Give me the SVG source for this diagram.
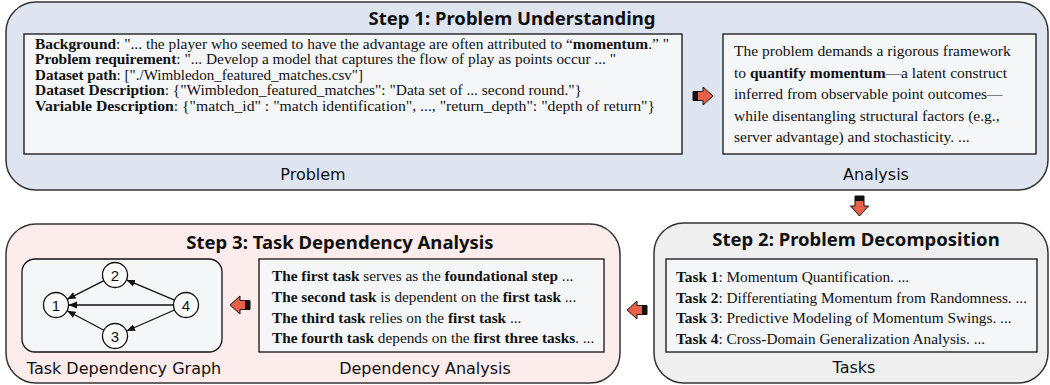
<svg xmlns="http://www.w3.org/2000/svg" width="1050" height="385" viewBox="0 0 1050 385">
<style>
.step{stroke:#333;stroke-width:1.5}
.inner{fill:#f5f6f8;stroke:#111;stroke-width:1.3}
.title{font-family:"Noto Sans","Open Sans",sans-serif;font-weight:bold;font-size:18.5px;fill:#111;text-anchor:middle}
.label{font-family:"DejaVu Sans",sans-serif;font-size:16px;fill:#111;text-anchor:middle}
.body{font-family:"Liberation Serif",serif;fill:#111}
.b{font-weight:bold}
.node circle{fill:#fff;stroke:#111;stroke-width:1.3}
.node text{font-family:"Liberation Sans",sans-serif;font-size:15px;fill:#111;text-anchor:middle}
.edge{stroke:#111;stroke-width:1.3;fill:none;marker-end:url(#ah)}
</style>
<defs>
<marker id="ah" markerUnits="userSpaceOnUse" markerWidth="9" markerHeight="8" refX="8.5" refY="4" orient="auto">
<path d="M0,0.5 L8.5,4 L0,7.5 Z" fill="#111"/>
</marker>
<g id="blk">
<path d="M-10,-4.5 H0 V-9 L10,0 L0,9 V4.5 H-10 Z" fill="#ea5f48" stroke="#111" stroke-width="1"/>
<rect x="-10" y="-4.5" width="5" height="9" fill="#111"/>
</g>
</defs>

<g id="step1">
<rect class="step" x="6" y="2" width="1042" height="188" rx="30" fill="#dee4f0"/>
<text class="title" x="512" y="25">Step 1: Problem Understanding</text>
</g>
<g id="problem">
<rect class="inner" x="24" y="34" width="658" height="120"/>
<text class="body" font-size="13.6" x="35" y="48.5" textLength="634" lengthAdjust="spacingAndGlyphs"><tspan class="b">Background</tspan>: "... the player who seemed to have the advantage are often attributed to “<tspan class="b">momentum</tspan>.” "</text>
<text class="body" font-size="13.6" x="35" y="64" textLength="581" lengthAdjust="spacingAndGlyphs"><tspan class="b">Problem requirement</tspan>: "... Develop a model that captures the flow of play as points occur ... "</text>
<text class="body" font-size="13.6" x="35" y="79.5" textLength="328" lengthAdjust="spacingAndGlyphs"><tspan class="b">Dataset path</tspan>: ["./Wimbledon_featured_matches.csv"]</text>
<text class="body" font-size="13.6" x="35" y="95" textLength="547" lengthAdjust="spacingAndGlyphs"><tspan class="b">Dataset Description</tspan>: {"Wimbledon_featured_matches": "Data set of ... second round."}</text>
<text class="body" font-size="13.6" x="35" y="110.5" textLength="620" lengthAdjust="spacingAndGlyphs"><tspan class="b">Variable Description</tspan>: {"match_id" : "match identification", ..., "return_depth": "depth of return"}</text>
<text class="label" x="313" y="180">Problem</text>
</g>
<g id="analysis">
<rect class="inner" x="723" y="34" width="313" height="120"/>
<text class="body" font-size="15.5" x="734" y="56">The problem demands a rigorous framework</text>
<text class="body" font-size="15.5" x="734" y="77.5">to <tspan class="b">quantify momentum</tspan>—a latent construct</text>
<text class="body" font-size="15.5" x="734" y="99">inferred from observable point outcomes—</text>
<text class="body" font-size="15.5" x="734" y="120.5">while disentangling structural factors (e.g.,</text>
<text class="body" font-size="15.5" x="734" y="142">server advantage) and stochasticity. ...</text>
<text class="label" x="876" y="180">Analysis</text>
</g>

<g id="step2">
<rect class="step" x="654" y="223" width="394" height="160" rx="30" fill="#efefef"/>
<text class="title" x="856" y="246">Step 2: Problem Decomposition</text>
<rect class="inner" x="666" y="259" width="371" height="93"/>
<text class="body" font-size="15.3" x="676" y="282"><tspan class="b">Task 1</tspan>: Momentum Quantification. ...</text>
<text class="body" font-size="15.3" x="676" y="302.5"><tspan class="b">Task 2</tspan>: Differentiating Momentum from Randomness. ...</text>
<text class="body" font-size="15.3" x="676" y="323"><tspan class="b">Task 3</tspan>: Predictive Modeling of Momentum Swings. ...</text>
<text class="body" font-size="15.3" x="676" y="343.5"><tspan class="b">Task 4</tspan>: Cross-Domain Generalization Analysis. ...</text>
<text class="label" x="854" y="373">Tasks</text>
</g>

<g id="step3">
<rect class="step" x="6" y="224" width="614" height="159" rx="30" fill="#fcecec"/>
<text class="title" x="340" y="249">Step 3: Task Dependency Analysis</text>
<rect class="inner" x="22" y="259" width="200" height="93" rx="13"/>
<text class="label" x="124" y="374">Task Dependency Graph</text>
<rect class="inner" x="259" y="259" width="345" height="93"/>
<text class="body" font-size="15.3" x="272" y="281"><tspan class="b">The first task</tspan> serves as the <tspan class="b">foundational step</tspan> ...</text>
<text class="body" font-size="15.3" x="272" y="301.5"><tspan class="b">The second task</tspan> is dependent on the <tspan class="b">first task</tspan> ...</text>
<text class="body" font-size="15.3" x="272" y="322.5"><tspan class="b">The third task</tspan> relies on the <tspan class="b">first task</tspan> ...</text>
<text class="body" font-size="15.3" x="272" y="343"><tspan class="b">The fourth task</tspan> depends on the <tspan class="b">first three tasks</tspan>. ...</text>
<text class="label" x="425" y="374">Dependency Analysis</text>
</g>

<g id="connectors">
<use href="#blk" transform="translate(703,96)"/>
<use href="#blk" transform="translate(859.5,206) rotate(90)"/>
<use href="#blk" transform="translate(637,310) rotate(180)"/>
<use href="#blk" transform="translate(240,305) rotate(180)"/>
<line class="edge" x1="174.5" y1="300.1" x2="126.5" y2="279.9"/>
<line class="edge" x1="174.5" y1="310" x2="126.5" y2="331"/>
<line class="edge" x1="173.5" y1="305" x2="68.5" y2="305"/>
<line class="edge" x1="103.9" y1="280.7" x2="67.1" y2="299.3"/>
<line class="edge" x1="103.9" y1="330.2" x2="67.1" y2="310.8"/>
</g>

<g id="node1" class="node"><circle cx="56" cy="305" r="12.5"/><text x="56" y="310.5">1</text></g>
<g id="node2" class="node"><circle cx="115" cy="275" r="12.5"/><text x="115" y="280.5">2</text></g>
<g id="node3" class="node"><circle cx="115" cy="336" r="12.5"/><text x="115" y="341.5">3</text></g>
<g id="node4" class="node"><circle cx="186" cy="305" r="12.5"/><text x="186" y="310.5">4</text></g>
</svg>
